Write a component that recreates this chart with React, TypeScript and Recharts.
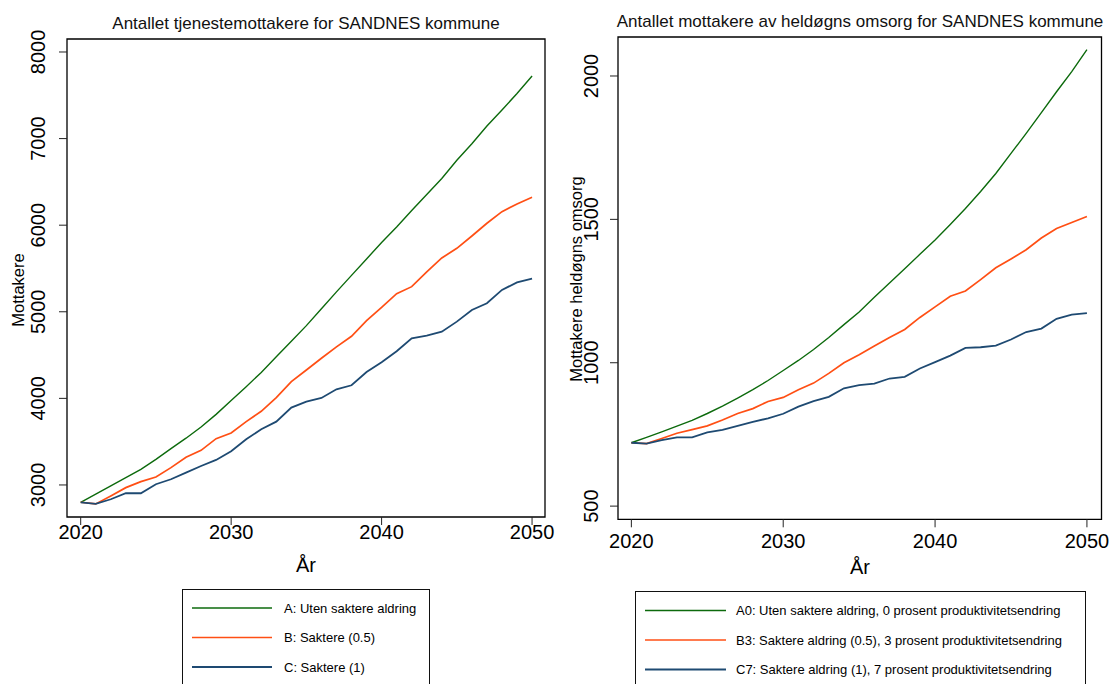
import React from 'react';
import { LineChart, Line, XAxis, YAxis, ReferenceArea } from 'recharts';

const years = [2020, 2021, 2022, 2023, 2024, 2025, 2026, 2027, 2028, 2029, 2030, 2031, 2032, 2033, 2034, 2035, 2036, 2037, 2038, 2039, 2040, 2041, 2042, 2043, 2044, 2045, 2046, 2047, 2048, 2049, 2050];

const leftA = [2800, 2895, 2990, 3085, 3180, 3295, 3420, 3540, 3670, 3815, 3975, 4135, 4300, 4480, 4660, 4840, 5035, 5230, 5420, 5610, 5800, 5980, 6170, 6355, 6540, 6750, 6940, 7145, 7330, 7520, 7723];
const leftB = [2800, 2781, 2873, 2969, 3038, 3092, 3200, 3320, 3400, 3535, 3600, 3731, 3851, 4008, 4193, 4328, 4463, 4594, 4717, 4897, 5052, 5209, 5290, 5460, 5621, 5733, 5875, 6022, 6156, 6245, 6322];
const leftC = [2800, 2781, 2835, 2904, 2904, 3008, 3066, 3142, 3219, 3289, 3389, 3528, 3643, 3731, 3893, 3962, 4005, 4105, 4151, 4305, 4417, 4544, 4694, 4724, 4770, 4886, 5021, 5098, 5252, 5340, 5382];

const rightA0 = [721, 740, 759, 779, 799, 823, 849, 877, 906, 938, 973, 1008, 1046, 1088, 1133, 1177, 1228, 1278, 1328, 1378, 1428, 1482, 1538, 1597, 1660, 1730, 1800, 1872, 1945, 2015, 2092];
const rightB3 = [721, 718, 736, 754, 767, 780, 800, 823, 840, 865, 879, 906, 929, 963, 1000, 1028, 1058, 1088, 1116, 1158, 1195, 1232, 1250, 1290, 1331, 1362, 1394, 1435, 1468, 1489, 1510];
const rightC7 = [721, 718, 730, 740, 740, 757, 766, 780, 794, 806, 822, 847, 866, 881, 911, 922, 927, 945, 951, 980, 1002, 1025, 1052, 1054, 1060, 1081, 1107, 1119, 1153, 1168, 1173];

const xTicks = [2020, 2030, 2040, 2050];
const leftYTicks = [3000, 4000, 5000, 6000, 7000, 8000];
const rightYTicks = [500, 1000, 1500, 2000];

const leftNames = ['A: Uten saktere aldring', 'B: Saktere (0.5)', 'C: Saktere (1)'];
const rightNames = [
  'A0: Uten saktere aldring, 0 prosent produktivitetsendring',
  'B3: Saktere aldring (0.5), 3 prosent produktivitetsendring',
  'C7: Saktere aldring (1), 7 prosent produktivitetsendring',
];

const leftTitle = 'Antallet tjenestemottakere for SANDNES kommune';
const rightTitle = 'Antallet mottakere av heldøgns omsorg for SANDNES kommune';
const leftYLabel = 'Mottakere';
const rightYLabel = 'Mottakere heldøgns omsorg';
const xLabel = 'År';

const COLORS = ['#0c6a0c', '#ff4f14', '#1e4a72'];
const WIDTHS = [1.4, 1.7, 1.8];
const FONT = '"Liberation Sans", Arial, Helvetica, sans-serif';

const leftXDomain = [2019.09, 2050.86];
const leftYDomain = [2630, 8150];
const rightXDomain = [2019.12, 2050.96];
const rightYDomain = [454, 2136];

const leftData = years.map((y, i) => ({ year: y, s0: leftA[i], s1: leftB[i], s2: leftC[i] }));
const rightData = years.map((y, i) => ({ year: y, s0: rightA0[i], s1: rightB3[i], s2: rightC7[i] }));

const makeXTick = (dy: number) => (props: any) => (
  <text x={props.x} y={props.y + dy} textAnchor="middle" fontSize={20} fontFamily={FONT} fill="#000">
    {props.payload.value}
  </text>
);

const makeYTick = (dx: number) => (props: any) => {
  const bx = props.x - dx;
  return (
    <text
      x={bx}
      y={props.y}
      transform={`rotate(-90 ${bx} ${props.y})`}
      textAnchor="middle"
      fontSize={20}
      fontFamily={FONT}
      fill="#000"
    >
      {props.payload.value}
    </text>
  );
};

const XTickL = makeXTick(14);
const XTickR = makeXTick(21);
const YTickL = makeYTick(14);
const YTickR = makeYTick(12);

function Panel(props: any) {
  const { data, xDomain, yDomain, yTicks, margin, width, xTick, yTick } = props;
  return (
    <LineChart width={width} height={684} data={data} margin={margin}>
      <XAxis
        dataKey="year"
        type="number"
        domain={xDomain}
        ticks={xTicks}
        interval={0}
        height={1}
        tickSize={8}
        tickMargin={0}
        axisLine={false}
        tickLine={{ stroke: '#222', strokeWidth: 1 }}
        tick={xTick}
        allowDataOverflow
      />
      <YAxis
        type="number"
        domain={yDomain}
        ticks={yTicks}
        interval={0}
        width={1}
        tickSize={8}
        tickMargin={0}
        axisLine={false}
        tickLine={{ stroke: '#222', strokeWidth: 1 }}
        tick={yTick}
        allowDataOverflow
      />
      <ReferenceArea
        x1={xDomain[0]}
        x2={xDomain[1]}
        y1={yDomain[0]}
        y2={yDomain[1]}
        fill="none"
        fillOpacity={0}
        stroke="#000"
        strokeWidth={1.3}
        ifOverflow="visible"
      />
      {[0, 1, 2].map((k) => (
        <Line
          key={k}
          type="linear"
          dataKey={'s' + k}
          stroke={COLORS[k]}
          strokeWidth={WIDTHS[k]}
          dot={false}
          activeDot={false}
          isAnimationActive={false}
        />
      ))}
    </LineChart>
  );
}

function LegendBox(props: any) {
  const { left, top, width, names, lineX1, lineX2, textX, rowY } = props;
  return (
    <div
      style={{
        position: 'absolute',
        left,
        top,
        width,
        height: 140,
        border: '1px solid #111',
        boxSizing: 'border-box',
        background: '#fff',
      }}
    >
      <svg width={width} height={140} style={{ position: 'absolute', left: -1, top: -1 }}>
        {names.map((n: string, i: number) => (
          <g key={i}>
            <line x1={lineX1} x2={lineX2} y1={rowY[i]} y2={rowY[i]} stroke={COLORS[i]} strokeWidth={WIDTHS[i]} />
            <text x={textX} y={rowY[i] + 4.6} fontSize={13} fontFamily={FONT} fill="#000">
              {n}
            </text>
          </g>
        ))}
      </svg>
    </div>
  );
}

export default function App() {
  return (
    <div
      style={{
        position: 'absolute',
        left: 0,
        top: 0,
        width: 1113,
        height: 684,
        overflow: 'hidden',
        background: '#fff',
      }}
    >
      <div style={{ position: 'absolute', left: 0, top: 0 }}>
        <Panel
          width={560}
          data={leftData}
          xDomain={leftXDomain}
          yDomain={leftYDomain}
          yTicks={leftYTicks}
          margin={{ top: 39, right: 15, bottom: 166, left: 66 }}
          xTick={XTickL}
          yTick={YTickL}
        />
      </div>
      <div style={{ position: 'absolute', left: 560, top: 0 }}>
        <Panel
          width={553}
          data={rightData}
          xDomain={rightXDomain}
          yDomain={rightYDomain}
          yTicks={rightYTicks}
          margin={{ top: 37, right: 11.5, bottom: 163.7, left: 57 }}
          xTick={XTickR}
          yTick={YTickR}
        />
      </div>
      <svg
        width={1113}
        height={684}
        style={{ position: 'absolute', left: 0, top: 0, pointerEvents: 'none' }}
      >
        <text x={306} y={29} textAnchor="middle" fontSize={17} fontFamily={FONT} fill="#111">
          {leftTitle}
        </text>
        <text x={860} y={27} textAnchor="middle" fontSize={17} fontFamily={FONT} fill="#111">
          {rightTitle}
        </text>
        <text
          x={24}
          y={290}
          transform="rotate(-90 24 290)"
          textAnchor="middle"
          fontSize={16.5}
          fontFamily={FONT}
          fill="#000"
        >
          {leftYLabel}
        </text>
        <text
          x={582}
          y={279}
          transform="rotate(-90 582 279)"
          textAnchor="middle"
          fontSize={16.5}
          fontFamily={FONT}
          fill="#000"
        >
          {rightYLabel}
        </text>
        <text x={306} y={572} textAnchor="middle" fontSize={20} fontFamily={FONT} fill="#000">
          {xLabel}
        </text>
        <text x={860} y={574} textAnchor="middle" fontSize={20} fontFamily={FONT} fill="#000">
          {xLabel}
        </text>
      </svg>
      <LegendBox
        left={182}
        top={589}
        width={248}
        names={leftNames}
        lineX1={10}
        lineX2={90}
        textX={102}
        rowY={[19, 48.5, 78]}
      />
      <LegendBox
        left={635}
        top={591}
        width={451}
        names={rightNames}
        lineX1={10}
        lineX2={91}
        textX={101}
        rowY={[19.5, 49, 78.5]}
      />
    </div>
  );
}
